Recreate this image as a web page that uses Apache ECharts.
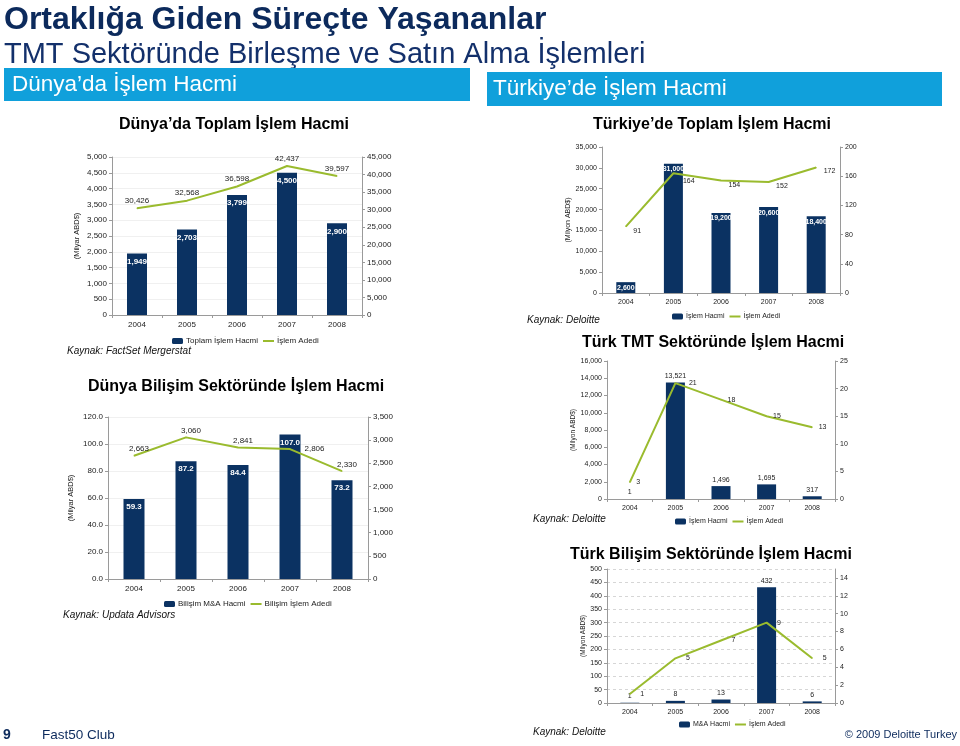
<!DOCTYPE html>
<html><head><meta charset="utf-8">
<script src="https://cdn.jsdelivr.net/npm/echarts/dist/echarts.min.js"></script>
<style>html,body{margin:0;padding:0;background:#fff}#c{width:960px;height:746px}</style>
</head><body><div id="c"></div>
<script>
// ---- data ----
const years = ['2004', '2005', '2006', '2007', '2008'];
const worldVolume = [1949, 2703, 3799, 4500, 2900];        // Milyar ABD$
const worldDeals = [30426, 32568, 36598, 42437, 39597];
const itVolume = [59.3, 87.2, 84.4, 107.0, 73.2];           // Milyar ABD$
const itDeals = [2663, 3060, 2841, 2806, 2330];
const trVolume = [2600, 31000, 19200, 20600, 18400];       // Milyon ABD$
const trDeals = [91, 164, 154, 152, 172];
const tmtVolume = [1, 13521, 1496, 1695, 317];             // Milyon ABD$
const tmtDeals = [3, 21, 18, 15, 13];
const trItVolume = [1, 8, 13, 432, 6];                     // Milyon ABD$
const trItDeals = [1, 5, 7, 9, 5];

// axis ranges [min, max, interval]
const worldVolumeAxis = [0, 5000, 500];
const worldDealsAxis = [0, 45000, 5000];
const itVolumeAxis = [0, 120, 20];
const itDealsAxis = [0, 3500, 500];
const trVolumeAxis = [0, 35000, 5000];
const trDealsAxis = [0, 200, 40];
const tmtVolumeAxis = [0, 16000, 2000];
const tmtDealsAxis = [0, 25, 5];
const trItVolumeAxis = [0, 500, 50];
const trItDealsAxis = [0, 15, 2];

// ---- style ----
const NAVY = '#0B3262', GREEN = '#9ABB2E', AX = '#9a9a9a', TXT = '#222';
const FONT = '"Liberation Sans", Arial, Helvetica, sans-serif';
const fmt = v => Math.round(v).toLocaleString('en-US');

const grids = [
  {left: 112, top: 157, width: 250, height: 158},
  {left: 108, top: 417, width: 260, height: 162},
  {left: 602, top: 147, width: 238, height: 146},
  {left: 607, top: 361, width: 228, height: 138},
  {left: 607, top: 569, width: 228, height: 134}
].map(g => Object.assign({containLabel: false, outerBoundsMode: 'none'}, g));

function xAx(gi, fs) {
  return {
    type: 'category', gridIndex: gi, data: years,
    axisLine: {lineStyle: {color: AX, width: 1}},
    axisTick: {show: true, length: 3, lineStyle: {color: AX}},
    axisLabel: {fontSize: fs, color: TXT, margin: 6, fontFamily: FONT},
    splitLine: {show: false}
  };
}
function yAx(gi, rng, side, fs, opt) {
  opt = opt || {};
  return Object.assign({
    type: 'value', gridIndex: gi, position: side,
    min: rng[0], max: rng[1], interval: rng[2],
    axisLine: {show: true, lineStyle: {color: AX, width: 1}},
    axisTick: {show: true, length: 3, lineStyle: {color: AX}},
    axisLabel: {fontSize: fs, color: TXT, margin: 5, fontFamily: FONT,
      formatter: opt.fmt || (v => fmt(v))},
    splitLine: opt.split || {show: false},
    nameTextStyle: {fontSize: opt.nameSize || 7.5, color: TXT, fontFamily: FONT}
  }, opt.extra || {});
}

const faint = {show: true, lineStyle: {color: '#f0f0f0', width: 1}};
const dashed = {show: true, lineStyle: {color: '#d6d6d6', width: 1, type: [3, 3]}};

const xAxis = [xAx(0, 8), xAx(1, 8), xAx(2, 7), xAx(3, 7), xAx(4, 7)];
const yAxis = [
  yAx(0, worldVolumeAxis, 'left', 8, {split: faint, extra: {name: '(Milyar ABD$)', nameLocation: 'middle', nameGap: 31}}),
  yAx(0, worldDealsAxis, 'right', 8),
  yAx(1, itVolumeAxis, 'left', 8, {split: faint, fmt: v => v.toFixed(1), extra: {name: '(Milyar ABD$)', nameLocation: 'middle', nameGap: 33}}),
  yAx(1, itDealsAxis, 'right', 8),
  yAx(2, trVolumeAxis, 'left', 7, {extra: {name: '(Milyon ABD$)', nameLocation: 'middle', nameGap: 30}, nameSize: 7}),
  yAx(2, trDealsAxis, 'right', 7),
  yAx(3, tmtVolumeAxis, 'left', 7, {extra: {name: '(Milyon ABD$)', nameLocation: 'middle', nameGap: 30}, nameSize: 6.5}),
  yAx(3, tmtDealsAxis, 'right', 7),
  yAx(4, trItVolumeAxis, 'left', 7, {split: dashed, extra: {name: '(Milyon ABD$)', nameLocation: 'middle', nameGap: 20}, nameSize: 6.5}),
  yAx(4, trItDealsAxis, 'right', 7, {extra: {axisLabel: {fontSize: 7, color: TXT, margin: 5, fontFamily: FONT, showMaxLabel: false}}})
];

function bar(name, data, idx, bw, lab) {
  return {
    type: 'bar', name, data, xAxisIndex: idx, yAxisIndex: idx * 2, barWidth: bw,
    itemStyle: {color: NAVY}, z: 2,
    label: Object.assign({show: true, fontFamily: FONT}, lab)
  };
}
function line(name, data, idx, lab) {
  return {
    type: 'line', name, data, xAxisIndex: idx, yAxisIndex: idx * 2 + 1,
    symbol: 'circle', symbolSize: 1, showSymbol: true,
    lineStyle: {color: GREEN, width: 2}, itemStyle: {color: GREEN}, z: 5,
    label: Object.assign({show: true, fontFamily: FONT, color: TXT, formatter: p => fmt(p.value)}, lab)
  };
}
// move one point's label (label placement only, values untouched)
const labelAt = (arr, k, lab) => arr.map((v, i) => i === k ? {value: v, label: lab} : v);
const whiteTop = fs => ({position: 'insideTop', distance: 4, color: '#fff', fontWeight: 'bold', fontSize: fs});
const blackTop = fs => ({position: 'top', distance: 3, color: TXT, fontSize: fs});

const series = [
  bar('Toplam İşlem Hacmi', worldVolume, 0, 20, Object.assign(whiteTop(8), {formatter: p => fmt(p.value)})),
  line('İşlem Adedi', worldDeals, 0, {position: 'top', distance: 3, fontSize: 8}),
  bar('Bilişim M&A Hacmi', itVolume, 1, 21, Object.assign(whiteTop(8), {formatter: p => p.value.toFixed(1)})),
  line('Bilişim İşlem Adedi', labelAt(itDeals, 3, {position: 'right', distance: 14, offset: [0, 0]}), 1,
    {position: 'top', distance: 2, offset: [5, 0], fontSize: 8}),
  bar('İşlem Hacmi', trVolume, 2, 19, Object.assign(whiteTop(7), {distance: 2, formatter: p => fmt(p.value)})),
  line('İşlem Adedi', labelAt(trDeals, 1, {position: 'right', distance: 9, offset: [0, 8]}), 2,
    {position: 'right', distance: 7, offset: [0, 4], fontSize: 7}),
  bar('İşlem Hacmi', tmtVolume, 3, 19, Object.assign(blackTop(7), {formatter: p => fmt(p.value)})),
  line('İşlem Adedi', labelAt(tmtDeals, 1, {position: 'right', distance: 13}), 3,
    {position: 'right', distance: 6, fontSize: 7}),
  bar('M&A Hacmi', trItVolume, 4, 19, Object.assign(blackTop(7), {formatter: p => fmt(p.value)})),
  line('İşlem Adedi', trItDeals, 4, {position: 'right', distance: 10, fontSize: 7})
];

function leg(left, top, barName, lineName, fs) {
  return {
    left, top, orient: 'horizontal', itemWidth: 11, itemHeight: 6, itemGap: 4,
    selectedMode: false, padding: 0,
    data: [
      {name: barName},
      {name: lineName, itemStyle: {color: 'rgba(0,0,0,0)', borderWidth: 0, opacity: 0}, lineStyle: {color: GREEN, width: 2}}
    ],
    textStyle: {fontSize: fs, color: TXT, fontFamily: FONT, padding: [0, 0, 0, -2]}
  };
}
const legend = [
  leg(172, 337, 'Toplam İşlem Hacmi', 'İşlem Adedi', 8),
  leg(164, 600, 'Bilişim M&A Hacmi', 'Bilişim İşlem Adedi', 8),
  leg(672, 313, 'İşlem Hacmi', 'İşlem Adedi', 7),
  leg(675, 518, 'İşlem Hacmi', 'İşlem Adedi', 7),
  leg(679, 721, 'M&A Hacmi', 'İşlem Adedi', 7)
];

function txt(text, x, y, size, opt) {
  opt = opt || {};
  return {
    type: 'text', x, y, silent: true,
    style: {text, fontSize: size, fontFamily: FONT, fontWeight: opt.w || 'normal', fontStyle: opt.s || 'normal',
      fill: opt.c || '#000', align: opt.a || 'left', verticalAlign: 'middle'}
  };
}
const TITLE = '#0C2A5C', BOX = '#10A0DB';
const graphic = [
  txt('Ortaklığa Giden Süreçte Yaşananlar', 4, 20, 32, {w: 'bold', c: TITLE}),
  txt('TMT Sektöründe Birleşme ve Satın Alma İşlemleri', 4, 55, 29, {c: '#13306B'}),
  {type: 'rect', shape: {x: 4, y: 68, width: 466, height: 33}, style: {fill: BOX}, silent: true},
  txt('Dünya’da İşlem Hacmi', 12, 85, 22.5, {c: '#fff'}),
  {type: 'rect', shape: {x: 487, y: 72, width: 455, height: 34}, style: {fill: BOX}, silent: true},
  txt('Türkiye’de İşlem Hacmi', 493, 89, 22.5, {c: '#fff'}),
  txt('Dünya’da Toplam İşlem Hacmi', 119, 125, 16, {w: 'bold'}),
  txt('Türkiye’de Toplam İşlem Hacmi', 593, 125, 16, {w: 'bold'}),
  txt('Dünya Bilişim Sektöründe İşlem Hacmi', 88, 387, 16, {w: 'bold'}),
  txt('Türk TMT Sektöründe İşlem Hacmi', 582, 343, 16, {w: 'bold'}),
  txt('Türk Bilişim Sektöründe İşlem Hacmi', 570, 555, 16, {w: 'bold'}),
  txt('Kaynak: FactSet Mergerstat', 67, 351, 10, {s: 'italic', c: '#111'}),
  txt('Kaynak: Updata Advisors', 63, 615, 10, {s: 'italic', c: '#111'}),
  txt('Kaynak: Deloitte', 527, 320, 10, {s: 'italic', c: '#111'}),
  txt('Kaynak: Deloitte', 533, 519, 10, {s: 'italic', c: '#111'}),
  txt('Kaynak: Deloitte', 533, 732, 10, {s: 'italic', c: '#111'}),
  txt('9', 3, 735, 14, {w: 'bold', c: TITLE}),
  txt('Fast50 Club', 42, 735, 13.5, {c: TITLE}),
  txt('© 2009 Deloitte Turkey', 957, 735, 11, {c: TITLE, a: 'right'})
];

const chart = echarts.init(document.getElementById('c'), null, {renderer: 'canvas'});
chart.setOption({
  animation: false,
  backgroundColor: '#fff',
  textStyle: {fontFamily: FONT},
  grid: grids, xAxis, yAxis, series, legend, graphic,
  tooltip: {show: false}
});
</script></body></html>
